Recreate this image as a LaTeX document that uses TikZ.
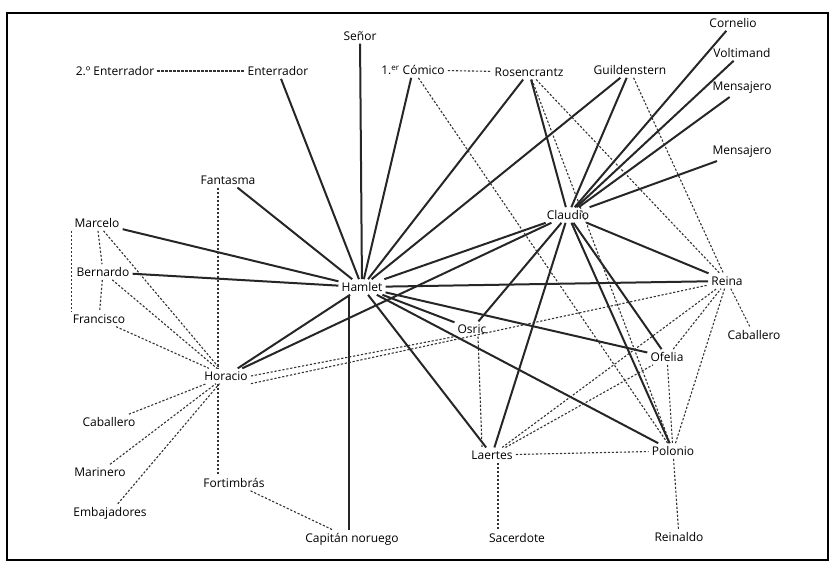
\documentclass[tikz,border=0pt]{standalone}
\usepackage{fontspec}
\setmainfont{Open Sans}
\begin{document}
\begin{tikzpicture}[
        x=1pt, y=-1pt,
        every node/.style={font=\fontsize{12}{14}\selectfont},
        person/.style={inner sep=3pt},
        tie/.style={line width=2pt, draw=black!85},
        link/.style={line width=1.1pt, draw=black!80,
            dash pattern=on 2.2pt off 1.8pt}
      ]
      \useasboundingbox (0,0) rectangle (831,565);
      \draw[line width=1.2pt] (7,13) rectangle (828,560);
      % personajes
      \node[person] (enterradorB) at (115,71) {2.º Enterrador};
      \node[person] (enterrador) at (278,71) {Enterrador};
      \node[person] (senor) at (360,36) {Señor};
      \node[person] (comico) at (413,70) {1.\textsuperscript{er} Cómico};
      \node[person] (rosencrantz) at (529,72) {Rosencrantz};
      \node[person] (guildenstern) at (630,70) {Guildenstern};
      \node[person] (cornelio) at (733,23) {Cornelio};
      \node[person] (voltimand) at (742,53) {Voltimand};
      \node[person] (mensajeroA) at (742,88) {Mensajero};
      \node[person] (mensajeroB) at (742,152) {Mensajero};
      \node[person] (fantasma) at (228,180) {Fantasma};
      \node[person] (marcelo) at (97,223) {Marcelo};
      \node[person] (bernardo) at (103,272) {Bernardo};
      \node[person] (francisco) at (99,319) {Francisco};
      \node[person] (hamlet) at (362,287) {Hamlet};
      \node[person] (claudio) at (568,215) {Claudio};
      \node[person] (reina) at (727,281) {Reina};
      \node[person] (caballeroR) at (754,335) {Caballero};
      \node[person] (osric) at (472,329) {Osric};
      \node[person] (ofelia) at (667,357) {Ofelia};
      \node[person] (horacio) at (226,376) {Horacio};
      \node[person] (caballeroL) at (109,422) {Caballero};
      \node[person] (marinero) at (100,472) {Marinero};
      \node[person] (embajadores) at (110,513) {Embajadores};
      \node[person] (fortimbras) at (234,483) {Fortimbrás};
      \node[person] (capitan) at (352,539) {Capitán noruego};
      \node[person] (laertes) at (492,455) {Laertes};
      \node[person] (polonio) at (673,451) {Polonio};
      \node[person] (sacerdote) at (517,538) {Sacerdote};
      \node[person] (reinaldo) at (679,537) {Reinaldo};
      % relaciones directas
      \foreach \a/\b in {enterrador/hamlet, senor/hamlet, comico/hamlet,
          rosencrantz/hamlet, guildenstern/hamlet, fantasma/hamlet,
          marcelo/hamlet, bernardo/hamlet, horacio/hamlet, laertes/hamlet,
          polonio/hamlet, ofelia/hamlet, osric/hamlet, claudio/hamlet,
          reina/hamlet}{
          \draw[tie] (\a) -- (\b);
        }
      \draw[tie] ([xshift=-13pt]hamlet.south) -- ([xshift=-13pt]hamlet.south |- capitan.north);
      \foreach \a/\b in {rosencrantz/claudio, guildenstern/claudio,
          cornelio/claudio, voltimand/claudio, mensajeroA/claudio,
          mensajeroB/claudio, reina/claudio, horacio/claudio, osric/claudio,
          laertes/claudio, ofelia/claudio, polonio/claudio}{
          \draw[tie] (\a) -- (\b);
        }
      % relaciones indirectas
      \foreach \a/\b in {enterradorB/enterrador, comico/rosencrantz,
          comico/polonio, rosencrantz/polonio, rosencrantz/reina,
          guildenstern/reina, marcelo/bernardo, bernardo/francisco,
          marcelo/horacio, bernardo/horacio, francisco/horacio,
          caballeroL/horacio, marinero/horacio, embajadores/horacio,
          fortimbras/capitan, laertes/polonio, laertes/ofelia,
          laertes/reina, ofelia/polonio, ofelia/reina, polonio/reina,
          polonio/reinaldo, reina/caballeroR}{
          \draw[link] (\a) -- (\b);
        }
      \draw[link] (horacio.east) -- (osric.south west);
      \draw[link] (horacio.south east) -- (reina);
      \draw[link] (marcelo.south west) -- (marcelo.south west |- francisco.north);
      \draw[link] ([xshift=-10pt]fantasma.south) -- ([xshift=-10pt]fantasma.south |- horacio.north);
      \draw[link] ([xshift=-8pt]horacio.south) -- ([xshift=-8pt]horacio.south |- fortimbras.north);
      \draw[link] ([xshift=6pt]osric.south) -- ([xshift=-10pt]laertes.north);
      \draw[link] ([xshift=6pt]laertes.south) -- ([xshift=6pt]laertes.south |- sacerdote.north);
    \end{tikzpicture}
\end{document}
